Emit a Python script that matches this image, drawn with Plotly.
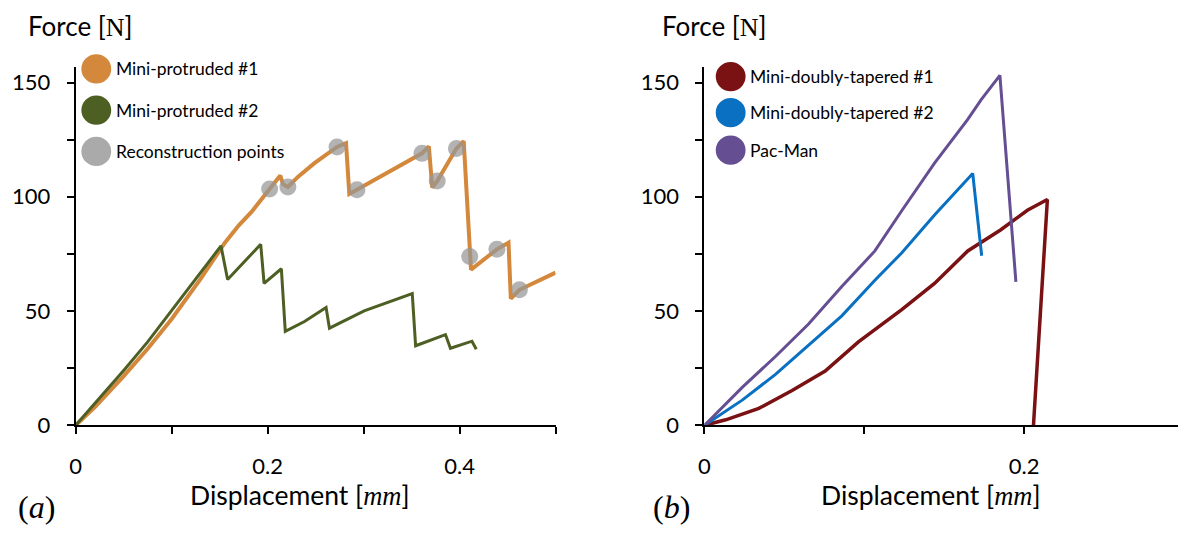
import plotly.graph_objects as go

# ---------------- data ----------------
# Panel (a)
mp1_x = [0.0, 0.02, 0.05, 0.075, 0.1, 0.13, 0.1555, 0.17, 0.1832, 0.2021, 0.2132,
         0.216, 0.2211, 0.2315, 0.2488, 0.2723, 0.2817,
         0.2851, 0.2931, 0.318, 0.3421, 0.3608, 0.368,
         0.3715, 0.3767, 0.3967, 0.4043,
         0.4119, 0.4389, 0.451,
         0.4534, 0.4624, 0.5]
mp1_y = [0.0, 8.0, 21.5, 33.5, 46.5, 64.0, 79.9, 87.5, 93.4, 103.4, 109.3,
         105.5, 104.3, 108.7, 114.7, 121.8, 123.5,
         101.2, 103.1, 109.0, 115.0, 119.0, 122.1,
         104.0, 106.9, 121.1, 124.4,
         68.1, 77.0, 79.9,
         55.4, 59.3, 66.8]

mp2_x = [0.0, 0.02, 0.05, 0.075, 0.1, 0.13, 0.1514,
         0.1583, 0.1928,
         0.1963, 0.2143,
         0.2184, 0.2384, 0.2609,
         0.2644, 0.3006, 0.3283, 0.3507,
         0.3542, 0.3853,
         0.3905, 0.4043, 0.4129, 0.4174]
mp2_y = [0.0, 9.5, 24.0, 36.5, 50.1, 66.5, 78.5,
         63.8, 79.2,
         62.1, 68.5,
         41.1, 45.4, 51.5,
         42.5, 50.1, 54.3, 57.6,
         34.8, 39.7,
         33.7, 35.8, 36.8, 33.3]

recon_x = [0.2021, 0.2211, 0.2723, 0.2931, 0.3608, 0.3767, 0.3967, 0.4106, 0.4389, 0.4624]
recon_y = [103.4, 104.3, 121.8, 103.1, 119.0, 106.9, 121.1, 73.9, 77.0, 59.3]

# Panel (b)
mdt1_x = [0.0, 0.0133, 0.034, 0.0548, 0.0755, 0.0963, 0.1236, 0.1439, 0.1647,
          0.1854, 0.202, 0.2145, 0.2058]
mdt1_y = [0.0, 2.4, 7.4, 15.2, 23.7, 36.5, 50.7, 62.1, 76.3,
          85.6, 94.1, 98.8, 0.0]

mdt2_x = [0.0, 0.0236, 0.0444, 0.0651, 0.0859, 0.1066, 0.1236, 0.1439, 0.1543,
          0.1605, 0.1678, 0.1734]
mdt2_y = [0.0, 11.0, 22.3, 35.1, 47.9, 63.5, 75.6, 92.0, 99.8,
          104.8, 110.2, 74.2]

pac_x = [0.0, 0.0236, 0.0444, 0.0651, 0.0859, 0.1066, 0.1236, 0.1439, 0.1647,
         0.173, 0.1848, 0.1948]
pac_y = [0.0, 16.6, 30.1, 44.3, 60.7, 76.3, 94.1, 114.7, 133.9,
         142.4, 153.1, 62.8]

legend_a = ["Mini-protruded #1", "Mini-protruded #2", "Reconstruction points"]
legend_b = ["Mini-doubly-tapered #1", "Mini-doubly-tapered #2", "Pac-Man"]

# ---------------- styling ----------------
W, H = 1186, 534
OFF = 8  # page body margin of the browser
C_OR = "#d4883c"
C_GR = "#4e5f23"
C_GRAY = "rgba(150,150,150,0.72)"
C_GRAY_LEG = "#aaaaaa"
C_RED = "#7a1113"
C_BLUE = "#0a70c2"
C_PUR = "#654f92"
SANS = "Lato"
SERIF = "Liberation Serif"


def PX(px):
    return (px - OFF) / W


def PY(py):
    return 1 - (py - OFF) / H


fig = go.Figure()

fig.add_trace(go.Scatter(x=mp1_x, y=mp1_y, mode="lines", line=dict(color=C_OR, width=4),
                         xaxis="x", yaxis="y", showlegend=False))
fig.add_trace(go.Scatter(x=mp2_x, y=mp2_y, mode="lines", line=dict(color=C_GR, width=3),
                         xaxis="x", yaxis="y", showlegend=False))
fig.add_trace(go.Scatter(x=recon_x, y=recon_y, mode="markers",
                         marker=dict(color=C_GRAY, size=17, line=dict(width=0)),
                         xaxis="x", yaxis="y", showlegend=False))

fig.add_trace(go.Scatter(x=mdt1_x, y=mdt1_y, mode="lines", line=dict(color=C_RED, width=3.5),
                         xaxis="x2", yaxis="y2", showlegend=False))
fig.add_trace(go.Scatter(x=mdt2_x, y=mdt2_y, mode="lines", line=dict(color=C_BLUE, width=3),
                         xaxis="x2", yaxis="y2", showlegend=False))
fig.add_trace(go.Scatter(x=pac_x, y=pac_y, mode="lines", line=dict(color=C_PUR, width=3),
                         xaxis="x2", yaxis="y2", showlegend=False))

y_top, y_bot = 68, 435.7
common_x = dict(showgrid=False, zeroline=False, showline=True, linecolor="black", linewidth=2,
                ticks="outside", ticklen=7, tickwidth=2, tickcolor="black",
                tickfont=dict(family=SANS, size=22, color="black"), ticklabelstandoff=13,
                fixedrange=True)
common_y = dict(showgrid=False, zeroline=False, showline=True, linecolor="black", linewidth=2,
                ticks="outside", ticklen=7, tickwidth=2, tickcolor="black",
                tickfont=dict(family=SANS, size=22, color="black"), ticklabelstandoff=12,
                range=[0, 157], tickvals=[0, 50, 100, 150],
                minor=dict(tickvals=[25, 75, 125], ticks="outside", ticklen=7, tickwidth=2,
                           tickcolor="black"),
                domain=[PY(y_bot), PY(y_top)], fixedrange=True)

fig.update_layout(
    width=W, height=H, autosize=False,
    margin=dict(l=0, r=0, t=0, b=0),
    paper_bgcolor="white", plot_bgcolor="white",
    showlegend=False,
    xaxis=dict(common_x, domain=[PX(70), PX(552.3)], range=[0, 0.5],
               tickvals=[0, 0.2, 0.4], ticktext=["0", "0.2", "0.4"],
               minor=dict(tickvals=[0.1, 0.3, 0.5], ticks="outside", ticklen=7, tickwidth=2,
                          tickcolor="black"),
               anchor="y"),
    yaxis=dict(common_y, anchor="x"),
    xaxis2=dict(common_x, domain=[PX(702), PX(1184)], range=[0, 0.3],
                tickvals=[0, 0.2], ticktext=["0", "0.2"],
                minor=dict(tickvals=[0.1, 0.3], ticks="outside", ticklen=7, tickwidth=2,
                           tickcolor="black"),
                anchor="y2"),
    yaxis2=dict(common_y, anchor="x2"),
)

# ---------------- custom legends (large circles) ----------------
shapes = []
annotations = []


def legend(cx, cys, tx, labels, colors, size):
    r = 15
    for cy, lab, col in zip(cys, labels, colors):
        shapes.append(dict(type="circle", xref="paper", yref="paper",
                           x0=PX(cx - r), x1=PX(cx + r), y0=PY(cy + r), y1=PY(cy - r),
                           fillcolor=col, line=dict(width=0), layer="above"))
        annotations.append(dict(xref="paper", yref="paper", x=PX(tx), y=PY(cy),
                                xanchor="left", yanchor="middle", showarrow=False,
                                text=lab, font=dict(family=SANS, size=size, color="black")))


legend(90.7, [70.4, 112.7, 155], 109, legend_a, [C_OR, C_GR, C_GRAY_LEG], 17.5)
legend(728.3, [78.3, 115.3, 153.7], 746, legend_b, [C_RED, C_BLUE, C_PUR], 17.5)

# ---------------- axis titles / panel labels ----------------
force_txt = "Force [<span style='font-family:%s'>N</span>]" % SERIF
disp_txt = "Displacement [<span style='font-family:%s'><i>mm</i></span>]" % SERIF
for x_left, label_x in [(20, 295), (657, 930)]:
    annotations.append(dict(xref="paper", yref="paper", x=PX(x_left), y=PY(8),
                            xanchor="left", yanchor="top", showarrow=False,
                            text=force_txt, font=dict(family=SANS, size=26, color="black")))
    annotations.append(dict(xref="paper", yref="paper", x=PX(label_x), y=PY(507),
                            xanchor="center", yanchor="middle", showarrow=False,
                            text=disp_txt, font=dict(family=SANS, size=26.5, color="black")))

for cx, letter in [(31, "a"), (669, "b")]:
    annotations.append(dict(xref="paper", yref="paper", x=PX(cx), y=PY(519),
                            xanchor="center", yanchor="middle", showarrow=False,
                            text="(<i>%s</i>)" % letter,
                            font=dict(family=SERIF, size=32, color="black")))

fig.update_layout(shapes=shapes, annotations=annotations)

fig.write_html("out.html")
